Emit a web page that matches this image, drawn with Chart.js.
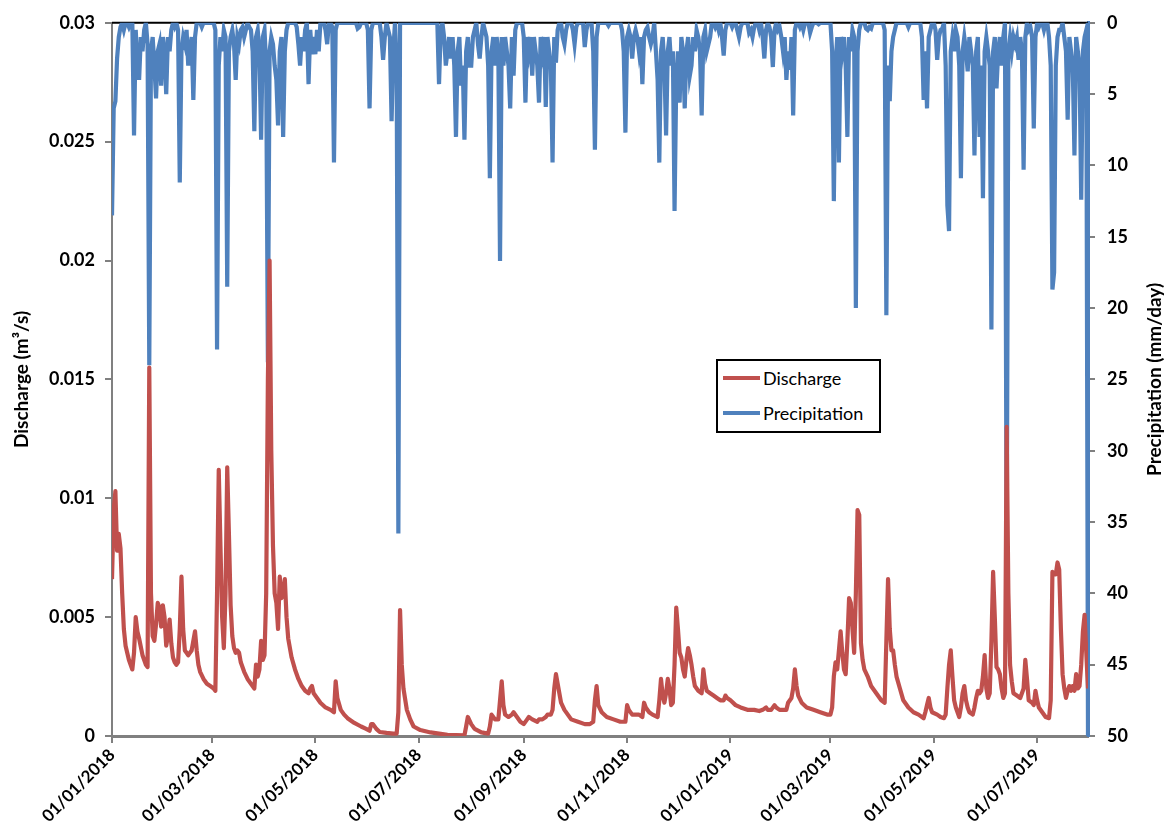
<!DOCTYPE html>
<html>
<head>
<meta charset="utf-8">
<script src="https://cdn.jsdelivr.net/npm/chart.js@4/dist/chart.umd.min.js"></script>
<style>
  html, body { margin: 0; padding: 0; background: #ffffff; }
  #wrap { position: relative; width: 1168px; height: 838px; }
  #legend {
    position: absolute; left: 716px; top: 359px; width: 161px; height: 70px;
    border: 2px solid #000; background: #fff;
    font-family: Lato, "Open Sans", "Liberation Sans", sans-serif; font-size: 18px; color: #000;
  }
  .item { position: absolute; left: 0; height: 20px; line-height: 20px; white-space: nowrap; }
  .swatch { position: absolute; left: 5px; top: 8px; width: 37px; height: 4px; }
  .label { position: absolute; left: 45px; top: 0; }
</style>
</head>
<body>
<div id="wrap">
  <canvas id="c" width="1168" height="838"></canvas>
  <div id="legend">
    <div class="item" style="top:7px"><span class="swatch" style="background:#C0504D"></span><span class="label">Discharge</span></div>
    <div class="item" style="top:42px"><span class="swatch" style="background:#4F81BD"></span><span class="label">Precipitation</span></div>
  </div>
</div>
<script>
// ---- Data (day 0 = 01/01/2018, daily to 31/07/2019) ----
const tickDays   = [0, 59, 120, 181, 243, 304, 365, 424, 485, 546];
const tickLabels = ["01/01/2018","01/03/2018","01/05/2018","01/07/2018","01/09/2018",
                    "01/11/2018","01/01/2019","01/03/2019","01/05/2019","01/07/2019"];
const dischargeTickValues = [0, 0.005, 0.01, 0.015, 0.02, 0.025, 0.03];
const dischargeTickLabels = ["0", "0.005", "0.01", "0.015", "0.02", "0.025", "0.03"];

// Daily precipitation (mm/day), one row per month
const precipitation = [
  // Jan 2018
  13.5,6,5.5,2.5,1,0.3,0,0.5,0,0, 0.3,0,0,7.9,0.5,3,4,1,2,0.5, 0,1.5,24,2,1,3,5.3,2,1.5,4.4, 1,
  // Feb 2018
  2,5,1,2,0.5,0,0.3,0,0.5,11.2, 2,1,1.5,0.5,3,2,1,5.4,1,0, 0,0,0.3,0,0,0,0,0,
  // Mar 2018
  0,0,0.5,22.9,3,1,2,0.5,1,18.5, 2,1,0.5,1.5,4,1,1.5,0.5,0.3,1, 0.5,0,0.3,0.5,2,7.6,1,0.5,2,8.2, 1,
  // Apr 2018
  0.5,3,23.8,2,1,1.5,3,4,7.2,2, 1,8,2,0.5,0,0,0,0,0,0.3, 1.5,3,1,2,0.5,0,4.3,0.5,2.2,1,
  // May 2018
  2.2,0.5,2,0,0,0,0.5,1.5,0,0, 0.3,9.8,0.5,0,0,0,0,0,0,0, 0,0,0,0,0,0.4,0.3,0,0,0, 0,
  // Jun 2018
  0.5,6,0.5,0,0,0,0,0,1,2.6, 1,0,0.5,1,6.9,2,0,3,35.8,0, 0,0,0,0,0,0,0,0,0,0,
  // Jul 2018
  0,0,0,0,0,0,0,0,0,0, 0,0,4.3,0.5,0,1,3,2,1,2.5, 1,3,8,2,1,4.4,3,8.2,2,1, 3,
  // Aug 2018
  3,1,0.5,0,1.5,2.5,1,0,0.5,1, 3,10.9,2,1,3,1,2,16.7,1,3, 1,2,3,6,1,3.7,0.5,0,0,0, 0,
  // Sep 2018
  1,5.6,1,2,1,3.7,1,2,3,5.6, 1,2,1,5.9,1,2,3,9.8,1,2.8, 0.5,0,0,1,1.5,0.5,0,0,0,0.5,
  // Oct 2018
  1.5,0.3,0,0,0,0,1.7,0.5,0,0, 0,2,8.9,1,0,0,0,0,0,0, 0.2,0,0,0,0,0,0,0,0.5,2, 7.7,
  // Nov 2018
  1,0.5,1,2.5,1,0.5,1,2,1,4.3, 1,0.5,0.3,1,1.5,1,0,2,4,9.8, 2,1,3,7.9,2,1,3,2,13.2,4,
  // Dec 2018
  2,5.6,1,2,6,2,1,3.7,3,1, 2,0.5,1,2,6.5,1,0.5,2,1.5,1, 0,0,0.3,0,0.5,0,1,2.3,0.5,0, 0,
  // Jan 2019
  0,0.3,0,0,0.5,1,0.3,0,0,0, 0,0.7,0.5,1,0.3,0,0,0.5,0,1, 2.5,0.5,0,0.3,1,3.1,0.5,0,0.5,0.3, 1,
  // Feb 2019
  2,1,4,2,3.3,1,6.5,0.5,0,0, 0.3,0,0.5,0,0,0,0.7,0.3,0,0, 0,0.1,0,0,0,0,0,0,
  // Mar 2019
  0,2,12.5,3,1,9.8,1,2,1,3, 8,1,2,0.5,1,20,2,0.5,0,0, 0,0.4,0.5,0.3,0.4,0,0,0,0,0, 0,
  // Apr 2019
  0,0.5,20.5,3,5.5,2,1,0.5,0,0, 0,0,0,0,0,0.3,0,0,0,0, 0,0,0,1,5.4,2,6,1,0.5,0,
  // May 2019
  0,0.5,2.6,1,0.5,0.4,0,3,12.8,14.6, 2,1,2,0.5,1,3,10.9,2,1,2, 3.4,1,2,3,9.3,2,1,8,3,12.3, 2,
  // Jun 2019
  1,2,3,21.5,2,1,4.6,2,1,3, 1,0,38.3,2,1,2,1,1.5,1,2.6, 1,2,10.3,1,0,0.5,0.3,1,7.4,1,
  // Jul 2019
  0,0.3,0,0,0.5,0,0,1,3,18.7, 17.5,3,1,0.5,0.5,0,1,2,6.8,1, 2,3,9.3,1,2,3,12.4,2,1,0.5, 50
];

// Discharge (m3/s) observations: [day, value]
const discharge = [
  [0,0.0066],[1,0.0095],[2,0.0103],[3,0.0078],[4,0.0085],[5,0.0079],[6,0.0060],[7,0.0045],[8,0.0038],[10,0.0032],
  [12,0.0028],[13,0.0035],[14,0.0050],[15,0.0044],[16,0.0041],[18,0.0034],[20,0.0030],[21,0.0029],[22,0.0155],[23,0.0060],
  [24,0.0042],[25,0.0040],[26,0.0047],[27,0.0056],[28,0.0054],[29,0.0046],[30,0.0055],[31,0.0050],[32,0.0038],[33,0.0042],
  [34,0.0049],[35,0.0039],[36,0.0033],[37,0.0031],[38,0.0030],[39,0.0031],[40,0.0045],[41,0.0067],[42,0.0045],[43,0.0036],
  [44,0.0035],[45,0.0034],[46,0.0035],[47,0.0036],[48,0.0040],[49,0.0044],[50,0.0036],[51,0.0030],[52,0.0027],[54,0.0024],
  [56,0.0022],[58,0.0021],[60,0.0020],[61,0.0019],[62,0.0060],[63,0.0112],[64,0.0080],[65,0.0050],[66,0.0037],[67,0.0060],
  [68,0.0113],[69,0.0085],[70,0.0055],[71,0.0042],[72,0.0037],[73,0.0035],[74,0.0036],[75,0.0035],[76,0.0031],[78,0.0027],
  [80,0.0024],[82,0.0022],[84,0.0020],[85,0.0030],[86,0.0025],[87,0.0028],[88,0.0040],[89,0.0032],[90,0.0034],[91,0.0060],
  [92,0.0150],[93,0.0200],[94,0.0120],[95,0.0080],[96,0.0060],[97,0.0056],[98,0.0045],[99,0.0067],[100,0.0058],[101,0.0060],
  [102,0.0066],[103,0.0050],[104,0.0041],[106,0.0033],[108,0.0028],[110,0.0024],[112,0.0021],[114,0.0019],[116,0.0018],[117,0.0020],
  [118,0.0021],[119,0.0018],[121,0.0016],[123,0.0014],[126,0.0012],[129,0.0011],[131,0.0010],[132,0.0023],[133,0.0016],[135,0.0011],
  [137,0.0009],[139,0.00075],[143,0.00055],[147,0.0004],[150,0.0003],[152,0.00022],[153,0.0005],[154,0.0005],[156,0.0003],[158,0.00017],
  [162,0.00013],[166,0.0001],[168,0.0001],[169,0.0010],[170,0.0053],[171,0.0030],[172,0.0020],[174,0.0011],[176,0.0007],[178,0.0004],
  [182,0.00025],[188,0.00015],[198,0.00005],[208,0.00003],[209,0.0004],[210,0.0008],[212,0.0005],[214,0.0003],[218,0.00015],[222,0.0001],
  [223,0.0004],[224,0.0009],[225,0.0008],[226,0.0007],[228,0.0007],[229,0.0015],[230,0.0023],[231,0.0013],[232,0.0009],[234,0.0008],
  [236,0.0009],[237,0.0010],[239,0.0008],[241,0.0006],[243,0.0005],[245,0.0007],[246,0.0008],[248,0.0007],[251,0.0006],[252,0.0007],
  [254,0.0007],[256,0.0008],[257,0.0009],[259,0.0009],[260,0.0011],[261,0.0020],[262,0.0026],[263,0.0022],[265,0.0014],[267,0.0011],
  [269,0.0009],[271,0.0007],[275,0.0006],[279,0.0005],[282,0.0005],[284,0.0006],[285,0.0015],[286,0.0021],[287,0.0013],[289,0.0010],
  [292,0.0008],[296,0.0007],[300,0.0006],[303,0.0006],[304,0.0013],[305,0.0011],[307,0.0009],[309,0.0009],[311,0.0009],[313,0.0008],
  [314,0.0014],[315,0.0012],[317,0.0010],[319,0.0009],[322,0.0008],[323,0.0015],[324,0.0024],[325,0.0017],[326,0.0014],[327,0.0018],
  [328,0.0024],[329,0.0020],[330,0.0013],[331,0.0014],[332,0.0030],[333,0.0054],[334,0.0045],[335,0.0035],[336,0.0033],[337,0.0028],
  [338,0.0025],[339,0.0032],[340,0.0037],[341,0.0034],[342,0.0030],[343,0.0025],[344,0.0021],[346,0.0019],[348,0.0018],[349,0.0028],
  [350,0.0022],[351,0.0019],[353,0.0018],[355,0.0017],[357,0.0016],[359,0.0015],[361,0.0015],[362,0.0017],[363,0.0016],[365,0.0015],
  [368,0.0013],[371,0.0012],[375,0.0011],[379,0.0011],[382,0.00105],[384,0.0011],[386,0.0012],[387,0.0011],[389,0.0011],[391,0.0013],
  [392,0.0012],[394,0.0011],[396,0.0011],[398,0.0011],[399,0.0014],[401,0.0016],[402,0.0020],[403,0.0028],[404,0.0021],[405,0.0017],
  [407,0.0014],[410,0.0012],[414,0.0011],[418,0.0010],[422,0.0009],[424,0.0009],[425,0.0012],[426,0.0025],[427,0.0031],[428,0.0028],
  [429,0.0036],[430,0.0044],[431,0.0035],[432,0.0028],[433,0.0026],[434,0.0040],[435,0.0058],[436,0.0056],[437,0.0045],[438,0.0035],
  [439,0.0060],[440,0.0095],[441,0.0093],[442,0.0039],[443,0.0032],[444,0.0028],[446,0.0025],[448,0.0021],[450,0.0019],[452,0.0017],
  [454,0.0015],[456,0.0014],[457,0.0040],[458,0.0066],[459,0.0045],[460,0.0036],[461,0.0036],[462,0.0030],[463,0.0025],[465,0.0020],
  [467,0.0015],[470,0.0012],[473,0.0010],[476,0.0009],[479,0.00075],[480,0.0010],[481,0.0013],[482,0.0016],[483,0.0012],[484,0.0010],
  [487,0.0009],[489,0.0008],[491,0.00075],[492,0.0009],[493,0.0020],[494,0.0030],[495,0.0036],[496,0.0025],[497,0.0015],[498,0.0012],
  [500,0.0008],[501,0.0012],[502,0.0018],[503,0.0021],[504,0.0015],[505,0.0012],[506,0.0010],[508,0.0009],[509,0.0012],[510,0.0016],
  [511,0.0019],[512,0.0018],[513,0.0019],[514,0.0025],[515,0.0034],[516,0.0020],[517,0.0016],[518,0.0018],[519,0.0040],[520,0.0069],
  [521,0.0050],[522,0.0029],[523,0.0028],[524,0.0026],[525,0.0020],[526,0.0016],[527,0.0018],[528,0.0130],[529,0.0060],[530,0.0030],
  [531,0.0023],[532,0.0018],[534,0.0017],[536,0.0016],[538,0.0020],[539,0.0032],[540,0.0024],[541,0.0015],[543,0.0014],[544,0.0013],
  [545,0.0019],[546,0.0015],[547,0.0012],[549,0.0010],[551,0.0008],[553,0.00075],[554,0.0015],[555,0.0069],[556,0.0068],[557,0.0068],
  [558,0.0073],[559,0.0070],[560,0.0045],[561,0.0026],[562,0.0020],[563,0.0016],[564,0.0019],[565,0.0021],[566,0.0019],[567,0.0021],
  [568,0.0019],[569,0.0026],[570,0.0020],[571,0.0021],[572,0.0030],[573,0.0044],[574,0.0051],[575,0.0035],[576,0.0020]
];

const leftTitle = "Discharge (m³/s)";
const rightTitle = "Precipitation (mm/day)";

// ---- Chart ----
const FONT = 'Lato, "Open Sans", "Liberation Sans", sans-serif';
const titlePlugin = {
  id: 'decor',
  beforeDatasetsDraw(chart) {
    const { ctx, chartArea: a } = chart;
    ctx.save();
    ctx.strokeStyle = '#000';
    ctx.lineWidth = 2;
    ctx.beginPath();
    ctx.moveTo(a.left, a.top);
    ctx.lineTo(a.right, a.top);
    ctx.stroke();
    ctx.restore();
  },
  afterDraw(chart) {
    const { ctx, chartArea: a } = chart;
    const cy = (a.top + a.bottom) / 2;
    [[leftTitle, 22], [rightTitle, 1155]].forEach(([t, x]) => {
      ctx.save();
      ctx.fillStyle = '#000';
      ctx.font = 'bold 19px ' + FONT;
      ctx.textAlign = 'center';
      ctx.textBaseline = 'middle';
      ctx.translate(x, cy);
      ctx.rotate(-Math.PI / 2);
      ctx.fillText(t, 0, 0);
      ctx.restore();
    });
  }
};

const precipPoints = precipitation.map((v, i) => ({ x: i, y: v }));
const dischargePoints = discharge.map(p => ({ x: p[0], y: p[1] }));

new Chart(document.getElementById('c'), {
  type: 'line',
  data: {
    datasets: [
      { label: 'Discharge', data: dischargePoints, yAxisID: 'y', borderColor: '#C0504D',
        borderWidth: 4.2, pointRadius: 0, tension: 0, fill: false, borderJoinStyle: 'round' },
      { label: 'Precipitation', data: precipPoints, yAxisID: 'y2', borderColor: '#4F81BD',
        borderWidth: 4.2, pointRadius: 0, tension: 0, fill: false }
    ]
  },
  options: {
    responsive: false,
    animation: false,
    events: [],
    layout: { padding: { left: 0, right: 0, top: 19, bottom: 0 } },
    plugins: { legend: { display: false }, tooltip: { enabled: false }, title: { display: false } },
    scales: {
      x: {
        type: 'linear', position: 'bottom', min: 0, max: 576,
        afterBuildTicks(scale) { scale.ticks = tickDays.map(v => ({ value: v })); },
        afterFit(scale) { scale.height = 102; },
        grid: { drawOnChartArea: false, drawTicks: true, tickLength: 7, color: '#808080', lineWidth: 2 },
        border: { display: true, color: '#808080', width: 3 },
        ticks: {
          autoSkip: false, maxRotation: 45, minRotation: 45, padding: 2, color: '#000',
          font: { family: FONT, size: 17, weight: 'bold' },
          callback(value) { const i = tickDays.indexOf(value); return i >= 0 ? tickLabels[i] : ''; }
        }
      },
      y: {
        position: 'left', min: 0, max: 0.03,
        afterFit(scale) { scale.width = 112; },
        afterBuildTicks(scale) { scale.ticks = dischargeTickValues.map(v => ({ value: v })); },
        grid: { drawOnChartArea: false, drawTicks: true, tickLength: 7, color: '#808080', lineWidth: 2 },
        border: { display: true, color: '#808080', width: 2 },
        ticks: {
          padding: 10, color: '#000', font: { family: FONT, size: 18, weight: 'bold' },
          callback(value, i) { return dischargeTickLabels[i]; }
        }
      },
      y2: {
        position: 'right', min: 0, max: 50, reverse: true,
        afterFit(scale) { scale.width = 80; },
        grid: { drawOnChartArea: false, drawTicks: true, tickLength: 7, color: '#808080', lineWidth: 2 },
        border: { display: true, color: '#4F81BD', width: 3 },
        ticks: { stepSize: 5, padding: 12, color: '#000', font: { family: FONT, size: 18, weight: 'bold' } }
      }
    }
  },
  plugins: [titlePlugin]
});
</script>
</body>
</html>
